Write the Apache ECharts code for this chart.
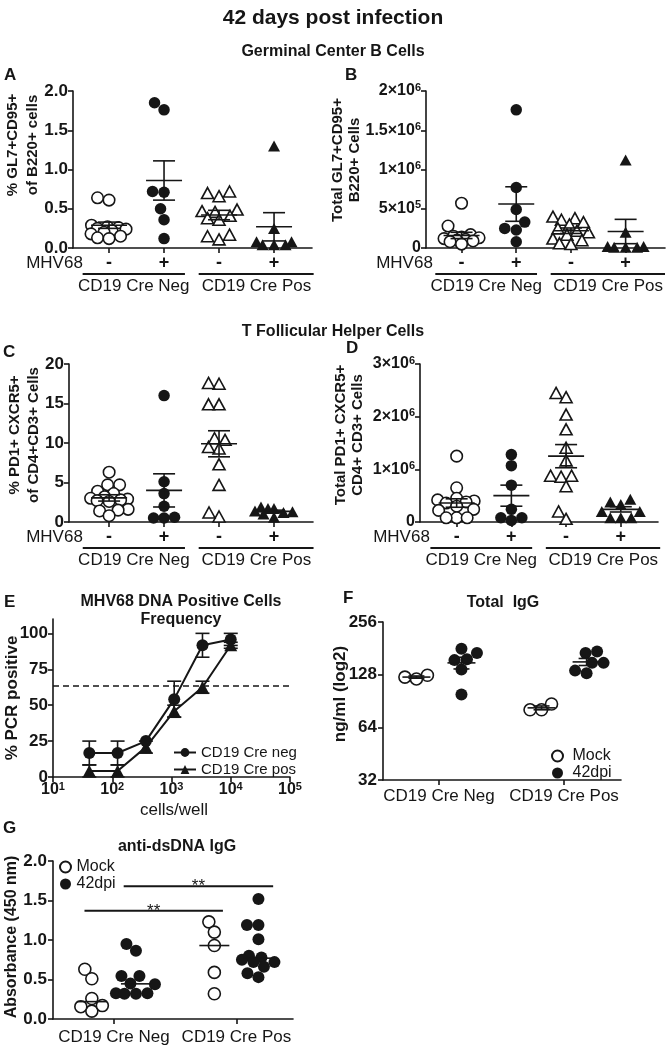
<!DOCTYPE html>
<html>
<head>
<meta charset="utf-8">
<script src="https://cdn.jsdelivr.net/npm/echarts@6/dist/echarts.min.js"></script>
<style>html,body{margin:0;padding:0;background:#fff}#c{width:666px;height:1049px}</style>
</head>
<body>
<div id="c"></div>
<script>
// ================= DATA =================
const signs = ['-', '+', '-', '+'];
const genotypes = ['CD19 Cre Neg', 'CD19 Cre Pos'];
const infectionLabel = 'MHV68';

// A: % GL7+CD95+ of B220+ cells
const aNegMock = [0.61, 0.64, 0.29, 0.27, 0.26, 0.25, 0.24, 0.22, 0.20, 0.18, 0.15, 0.13, 0.12];
const aNegInf  = [1.76, 1.85, 0.71, 0.72, 0.50, 0.36, 0.12];
const aPosMock = [0.66, 0.72, 0.70, 0.49, 0.47, 0.46, 0.41, 0.38, 0.36, 0.17, 0.15, 0.11];
const aPosInf  = [1.30, 0.25, 0.08, 0.08, 0.04, 0.04, 0.04];
const aMean = [0.29, 0.86, 0.42, 0.27];
const aSem  = [0.04, 0.25, 0.06, 0.18];

// B: Total GL7+CD95+ B220+ cells
const bNegMock = [5.7e5, 2.8e5, 1.7e5, 1.5e5, 1.4e5, 1.3e5, 1.2e5, 1.1e5, 1.0e5, 0.9e5, 0.8e5, 0.5e5];
const bNegInf  = [1.76e6, 7.7e5, 4.9e5, 3.3e5, 2.5e5, 2.3e5, 0.8e5];
const bPosMock = [4.0e5, 3.8e5, 3.6e5, 3.3e5, 3.0e5, 2.5e5, 2.2e5, 2.0e5, 1.7e5, 1.2e5, 1.0e5, 0.6e5, 0.5e5];
const bPosInf  = [1.12e6, 2.0e5, 2e4, 2e4, 1e4, 1e4, 1e4];
const bMean = [1.6e5, 5.6e5, 2.2e5, 2.1e5];
const bSem  = [0.4e5, 2.2e5, 0.35e5, 1.55e5];

// C: % PD1+ CXCR5+ of CD4+CD3+ cells
const cNegMock = [6.3, 4.7, 4.7, 3.9, 3.6, 3.2, 3.0, 2.9, 2.8, 2.7, 2.6, 1.6, 1.5, 1.4, 0.8];
const cNegInf  = [16.0, 5.1, 3.6, 2.0, 0.6, 0.5, 0.5];
const cPosMock = [17.5, 17.6, 14.9, 14.9, 10.6, 10.4, 9.3, 9.5, 7.3, 4.7, 0.7, 1.2];
const cPosInf  = [1.9, 1.7, 1.7, 1.4, 1.3, 1.2, 1.0, 0.6];
const cMean = [3.05, 4.0, 9.9, 1.35];
const cSem  = [0.4, 2.1, 1.65, 0.15];

// D: Total PD1+ CXCR5+ CD4+ CD3+ cells
const dNegMock = [1.25e6, 6.5e5, 4.5e5, 4.2e5, 4.0e5, 3.8e5, 3.6e5, 3.0e5, 2.4e5, 2.2e5, 0.8e5, 0.8e5, 0.8e5];
const dNegInf  = [1.28e6, 1.07e6, 7.0e5, 2.4e5, 0.8e5, 0.8e5, 0.3e5];
const dPosMock = [2.45e6, 2.37e6, 2.04e6, 1.76e6, 1.41e6, 1.17e6, 8.8e5, 8.8e5, 8.6e5, 6.8e5, 2.0e5, 0.6e5];
const dPosInf  = [4.3e5, 3.8e5, 3.3e5, 2.0e5, 2.0e5, 0.8e5, 0.8e5, 0.8e5];
const dMean = [3.6e5, 5.0e5, 1.25e6, 2.4e5];
const dSem  = [0.8e5, 2.0e5, 2.2e5, 0.5e5];

// E: limiting dilution, % PCR positive
const eSeriesNames = ['CD19 Cre neg', 'CD19 Cre pos'];
const eCells  = [41, 123, 370, 1111, 3333, 10000];
const eNegPct = [16.7, 16.7, 25.0, 54.2, 91.7, 95.8];
const eNegSem = [8.3, 8.3, 0, 12.5, 8.3, 4.2];
const ePosPct = [4.2, 4.2, 20.8, 45.8, 62.5, 91.7];
const ePosSem = [4.2, 4.2, 4.2, 4.2, 4.2, 2.1];
const eCutoff = 63.2;
const eYTicks = [0, 25, 50, 75, 100];

// F: Total IgG (ng/ml, log2)
const treatNames = ['Mock', '42dpi'];
const fMockNeg = [121, 127, 124];
const fMockPos = [80.6, 87, 80.6];
const fInfNeg  = [155, 170, 180, 157, 137, 98.5];
const fInfPos  = [170, 173.5, 149.5, 149.5, 130.6, 135];
const fMean = [124, 149.5, 82.7, 151.4];   // Neg-mock, Neg-42dpi, Pos-mock, Pos-42dpi
const fSem  = [1.8, 11.5, 2.1, 7.0];

// G: anti-dsDNA IgG (absorbance 450 nm)
const gMockNeg = [0.63, 0.51, 0.26, 0.10, 0.17, 0.156];
const gMockPos = [1.23, 1.10, 0.93, 0.59, 0.32];
const gInfNeg  = [0.95, 0.865, 0.544, 0.544, 0.45, 0.44, 0.325, 0.325, 0.32, 0.32];
const gInfPos  = [1.52, 1.19, 1.19, 1.01, 0.80, 0.78, 0.75, 0.72, 0.72, 0.66, 0.58, 0.53];
const gMedian  = [0.22, 0.445, 0.93, 0.77];
const gSigBars = [[0.76, 1.89, 1.37], [1.08, 2.30, 1.68]];  // [from, to, height]
const gSigLabel = '**';

// ================= LAYOUT / STYLE =================
const FONT = '"Liberation Sans", Arial, Helvetica, sans-serif';
const INK = '#161616';
const LAYOUT = {
  A: {left: 73,  top: 91,  width: 239, height: 157, xmin: 0.345, xmax: 4.69, ymin: 0, ymax: 2,   step: 0.5},
  B: {left: 426, top: 91,  width: 239, height: 157, xmin: 0.35,  xmax: 4.72, ymin: 0, ymax: 2e6, step: 5e5},
  C: {left: 69,  top: 364, width: 244, height: 158, xmin: 0.27,  xmax: 4.71, ymin: 0, ymax: 20,  step: 5},
  D: {left: 420, top: 364, width: 238, height: 158, xmin: 0.33,  xmax: 4.68, ymin: 0, ymax: 3e6, step: 1e6},
  E: {left: 53,  top: 619, width: 237, height: 158, ymin: 0, ymax: 110},
  F: {left: 383, top: 622, width: 238, height: 158, xmin: 0.553, xmax: 2.455, ymin: 32, ymax: 256, log: 2},
  G: {left: 53,  top: 861, width: 240, height: 158, xmin: 0.503, xmax: 2.462, ymin: 0, ymax: 2, step: 0.5}
};
const SUB = 0.18; // mock / infected offset around a genotype category (F, G)

const AXLINE = {show: true, onZero: false, lineStyle: {color: INK, width: 1.6}};
function tick(vals) {
  const t = {show: true, inside: false, length: 5, lineStyle: {color: INK, width: 1.6}};
  if (vals) t.customValues = vals;
  return t;
}
const supRich = {
  m: {fontSize: 16, fontWeight: 'bold', color: INK, fontFamily: FONT, lineHeight: 18},
  s: {fontSize: 11, fontWeight: 'bold', color: INK, fontFamily: FONT, verticalAlign: 'top', lineHeight: 11}
};
function sciLabel(v) {
  if (v === 0) return '{m|0}';
  const e = Math.floor(Math.log10(v) + 1e-9);
  const m = +(v / Math.pow(10, e)).toFixed(2);
  return '{m|' + m + '×10}{s|' + e + '}';
}

// fraction of axis height for value (linear or log)
function yFrac(cfg, v) {
  if (cfg.log) {
    const L = x => Math.log(x);
    return (L(v) - L(cfg.ymin)) / (L(cfg.ymax) - L(cfg.ymin));
  }
  return (v - cfg.ymin) / (cfg.ymax - cfg.ymin);
}
// Beeswarm limited to a maximum sideways spread (px); overlaps allowed when crowded
function swarm(values, center, cfg, diam, spread) {
  const pxPerX = cfg.width / (cfg.xmax - cfg.xmin);
  const order = values.map((v, i) => i).sort((a, b) => values[a] - values[b]);
  const placed = [];
  const out = new Array(values.length);
  const cands = [0];
  for (let s = 0.5; s <= spread + 1e-9; s += 0.5) { cands.push(-s); cands.push(s); }
  for (const i of order) {
    const py = yFrac(cfg, values[i]) * cfg.height;
    let best = null, bestD = -1;
    for (const cand of cands) {
      let dmin = Infinity;
      for (const p of placed) {
        const d = Math.hypot(p.px - cand, p.py - py);
        if (d < dmin) dmin = d;
      }
      if (dmin >= diam) { best = cand; break; }
      if (dmin > bestD + 0.75) { bestD = dmin; best = cand; }
    }
    placed.push({px: best, py: py});
    out[i] = [center + best / pxPerX, values[i]];
  }
  return out;
}
function scatter(idx, name, pts, symbol, filled, size) {
  return {
    type: 'scatter', name: name, xAxisIndex: idx, yAxisIndex: idx, data: pts,
    symbol: symbol, symbolSize: size, z: 5, clip: false, silent: true,
    itemStyle: {color: filled ? INK : '#ffffff', borderColor: INK, borderWidth: filled ? 0 : 1.6, opacity: 1}
  };
}
function lineEl(x1, y1, x2, y2, w) {
  return {type: 'line', shape: {x1: x1, y1: y1, x2: x2, y2: y2}, style: {stroke: INK, lineWidth: w || 1.6, fill: null}};
}
function meanSeries(idx, rows, halfW, capW) {
  return {
    type: 'custom', xAxisIndex: idx, yAxisIndex: idx, silent: true, z: 10, clip: false, data: rows,
    renderItem: function (params, api) {
      const x = api.value(0), m = api.value(1), s = api.value(2);
      const c = api.coord([x, m]);
      const kids = [lineEl(c[0] - halfW, c[1], c[0] + halfW, c[1])];
      if (s > 0 && capW > 0) {
        const t = api.coord([x, m + s]), b = api.coord([x, m - s]);
        kids.push(lineEl(c[0], t[1], c[0], b[1]));
        kids.push(lineEl(c[0] - capW, t[1], c[0] + capW, t[1]));
        kids.push(lineEl(c[0] - capW, b[1], c[0] + capW, b[1]));
      }
      return {type: 'group', children: kids};
    }
  };
}

// ================= OPTION =================
const option = {
  animation: false, backgroundColor: '#ffffff',
  textStyle: {fontFamily: FONT},
  grid: [], xAxis: [], yAxis: [], series: [],
  legend: [
    {left: 173, top: 745, orient: 'vertical', padding: 0, itemGap: 2, itemWidth: 22, itemHeight: 11,
     selectedMode: false, data: eSeriesNames,
     textStyle: {fontSize: 15, color: INK, fontFamily: FONT, lineHeight: 14}},
    {left: 551, top: 748, orient: 'vertical', padding: 0, itemGap: 1, itemWidth: 20, itemHeight: 11,
     selectedMode: false, data: treatNames,
     textStyle: {fontSize: 16, color: INK, fontFamily: FONT, lineHeight: 14}},
    {left: 59, top: 859, orient: 'vertical', padding: 0, itemGap: 1, itemWidth: 12, itemHeight: 11,
     selectedMode: false, data: treatNames,
     textStyle: {fontSize: 16, color: INK, fontFamily: FONT, lineHeight: 12}}
  ]
};
function addGrid(cfg) {
  option.grid.push({left: cfg.left, top: cfg.top, width: cfg.width, height: cfg.height,
                    containLabel: false, outerBoundsMode: 'none'});
}

const FOUR = [
  {key: 'A', groups: [aNegMock, aNegInf, aPosMock, aPosInf], mean: aMean, sem: aSem,
   fmt: v => v.toFixed(1), rich: null, diam: 11.5, spread: 18},
  {key: 'B', groups: [bNegMock, bNegInf, bPosMock, bPosInf], mean: bMean, sem: bSem,
   fmt: sciLabel, rich: supRich, diam: 11.5, spread: 18},
  {key: 'C', groups: [cNegMock, cNegInf, cPosMock, cPosInf], mean: cMean, sem: cSem,
   fmt: v => String(v), rich: null, diam: 10.5, spread: 19},
  {key: 'D', groups: [dNegMock, dNegInf, dPosMock, dPosInf], mean: dMean, sem: dSem,
   fmt: sciLabel, rich: supRich, diam: 10.5, spread: 19}
];
const SYMS = [['circle', false, 11.5], ['circle', true, 11.5], ['triangle', false, [12, 11]], ['triangle', true, [12, 11]]];
const CATS = [1, 2, 3, 4];

FOUR.forEach((P, i) => {
  const cfg = LAYOUT[P.key];
  addGrid(cfg);
  option.xAxis.push({
    gridIndex: i, type: 'value', min: cfg.xmin, max: cfg.xmax,
    axisLine: AXLINE, axisTick: tick(CATS), splitLine: {show: false},
    axisLabel: {customValues: CATS, formatter: v => signs[Math.round(v) - 1], margin: 6,
                fontSize: 18, fontWeight: 'bold', color: INK, fontFamily: FONT}
  });
  const lab = {formatter: P.fmt, margin: 5, fontSize: 17, fontWeight: 'bold', color: INK, fontFamily: FONT};
  if (P.rich) lab.rich = P.rich;
  option.yAxis.push({
    gridIndex: i, type: 'value', min: cfg.ymin, max: cfg.ymax, interval: cfg.step,
    axisLine: AXLINE, axisTick: tick(), splitLine: {show: false}, axisLabel: lab
  });
  P.groups.forEach((vals, g) => {
    const s = SYMS[g];
    option.series.push(scatter(i, P.key + g, swarm(vals, CATS[g], cfg, P.diam, P.spread), s[0], s[1], s[2]));
  });
  option.series.push(meanSeries(i, P.mean.map((m, g) => [CATS[g], m, P.sem[g]]), 18, 11));
});

// ---- E ----
(function () {
  const i = 4, cfg = LAYOUT.E;
  addGrid(cfg);
  option.xAxis.push({
    gridIndex: i, type: 'log', logBase: 10, min: 10, max: 100000,
    axisLine: AXLINE, axisTick: tick(), splitLine: {show: false}, minorTick: {show: false},
    axisLabel: {formatter: v => '{m|10}{s|' + Math.round(Math.log10(v)) + '}', margin: 4, rich: supRich}
  });
  option.yAxis.push({
    gridIndex: i, type: 'value', min: cfg.ymin, max: cfg.ymax,
    axisLine: AXLINE, axisTick: tick(eYTicks), splitLine: {show: false},
    axisLabel: {customValues: eYTicks, margin: 5, fontSize: 17, fontWeight: 'bold', color: INK, fontFamily: FONT}
  });
  const defs = [[eNegPct, eNegSem, 'circle'], [ePosPct, ePosSem, 'triangle']];
  defs.forEach((d, k) => {
    const s = {
      type: 'line', name: eSeriesNames[k], xAxisIndex: i, yAxisIndex: i,
      data: eCells.map((x, j) => [x, d[0][j]]), symbol: d[2], symbolSize: d[2] === 'circle' ? 12 : [13, 12],
      lineStyle: {color: INK, width: 2}, itemStyle: {color: INK}, z: 6, silent: true, clip: false
    };
    if (k === 0) {
      s.markLine = {silent: true, symbol: ['none', 'none'], label: {show: false},
                    lineStyle: {color: INK, type: [6, 4], width: 1.5}, data: [{yAxis: eCutoff}]};
    }
    option.series.push(s);
    option.series.push(meanSeries(i, eCells.map((x, j) => [x, d[0][j], d[1][j]]), 0, 7));
  });
})();

// ---- F ----
(function () {
  const i = 5, cfg = LAYOUT.F;
  addGrid(cfg);
  option.xAxis.push({
    gridIndex: i, type: 'value', min: cfg.xmin, max: cfg.xmax,
    axisLine: AXLINE, axisTick: tick([1, 2]), splitLine: {show: false},
    axisLabel: {customValues: [1, 2], formatter: v => genotypes[Math.round(v) - 1], margin: 8,
                fontSize: 17, color: INK, fontFamily: FONT}
  });
  option.yAxis.push({
    gridIndex: i, type: 'log', logBase: 2, min: cfg.ymin, max: cfg.ymax,
    axisLine: AXLINE, axisTick: tick(), splitLine: {show: false}, minorTick: {show: false},
    axisLabel: {formatter: v => String(Math.round(v)), margin: 6, fontSize: 17, fontWeight: 'bold', color: INK, fontFamily: FONT}
  });
  const mock = swarm(fMockNeg, 1 - SUB, cfg, 11.5, 17).concat(swarm(fMockPos, 2 - SUB, cfg, 11.5, 17));
  const inf = swarm(fInfNeg, 1 + SUB, cfg, 11.5, 17).concat(swarm(fInfPos, 2 + SUB, cfg, 11.5, 17));
  option.series.push(scatter(i, treatNames[0], mock, 'circle', false, 12));
  option.series.push(scatter(i, treatNames[1], inf, 'circle', true, 12));
  const xs = [1 - SUB, 1 + SUB, 2 - SUB, 2 + SUB];
  option.series.push(meanSeries(i, fMean.map((m, g) => [xs[g], m, fSem[g]]), 14, 8));
})();

// ---- G ----
(function () {
  const i = 6, cfg = LAYOUT.G;
  addGrid(cfg);
  option.xAxis.push({
    gridIndex: i, type: 'value', min: cfg.xmin, max: cfg.xmax,
    axisLine: AXLINE, axisTick: tick([1, 2]), splitLine: {show: false},
    axisLabel: {customValues: [1, 2], formatter: v => genotypes[Math.round(v) - 1], margin: 10,
                fontSize: 17, color: INK, fontFamily: FONT}
  });
  option.yAxis.push({
    gridIndex: i, type: 'value', min: cfg.ymin, max: cfg.ymax, interval: cfg.step,
    axisLine: AXLINE, axisTick: tick(), splitLine: {show: false},
    axisLabel: {formatter: v => v.toFixed(1), margin: 6, fontSize: 17, fontWeight: 'bold', color: INK, fontFamily: FONT}
  });
  const mock = swarm(gMockNeg, 1 - SUB, cfg, 11.5, 18).concat(swarm(gMockPos, 2 - SUB, cfg, 11.5, 18));
  const inf = swarm(gInfNeg, 1 + SUB, cfg, 11.5, 20).concat(swarm(gInfPos, 2 + SUB, cfg, 11.5, 20));
  option.series.push(scatter(i, treatNames[0], mock, 'circle', false, 12));
  option.series.push(scatter(i, treatNames[1], inf, 'circle', true, 12));
  const xs = [1 - SUB, 1 + SUB, 2 - SUB, 2 + SUB];
  option.series.push(meanSeries(i, gMedian.map((m, g) => [xs[g], m, 0]), 15, 0));
  option.series.push({
    type: 'custom', xAxisIndex: i, yAxisIndex: i, silent: true, z: 10, clip: false, data: gSigBars,
    renderItem: function (params, api) {
      const a = api.coord([api.value(0), api.value(2)]);
      const b = api.coord([api.value(1), api.value(2)]);
      return {type: 'group', children: [
        lineEl(a[0], a[1], b[0], b[1], 2),
        {type: 'text', x: (a[0] + b[0]) / 2, y: a[1] + 9,
         style: {text: gSigLabel, fontSize: 17, fontFamily: FONT, fill: INK,
                 align: 'center', textAlign: 'center', verticalAlign: 'bottom', textVerticalAlign: 'bottom'}}
      ]};
    }
  });
})();

const chart = echarts.init(document.getElementById('c'), null, {renderer: 'canvas', width: 666, height: 1049});
chart.setOption(option);

// ================= TEXT ANNOTATIONS =================
function txt(text, x, y, size, bold, opts) {
  opts = opts || {};
  return {
    type: 'text', x: x, y: y, rotation: opts.rot || 0, silent: true, z: 20,
    style: {text: text, fontSize: size, fontWeight: bold ? 'bold' : 'normal', fontFamily: FONT, fill: INK,
            align: opts.align || 'center', textAlign: opts.align || 'center',
            verticalAlign: 'middle', textVerticalAlign: 'middle', lineHeight: opts.lh || size + 2}
  };
}
const R = Math.PI / 2;
const g = [
  txt('42 days post infection', 333, 18, 21, true),
  txt('Germinal Center B Cells', 333, 52, 16, true),
  txt('T Follicular Helper Cells', 333, 332, 16, true),
  txt('MHV68 DNA Positive Cells\nFrequency', 181, 611, 16, true, {lh: 18}),
  txt('Total  IgG', 503, 603, 16, true),
  txt('anti-dsDNA IgG', 177, 847, 16, true),
  txt('A', 4, 75, 17, true, {align: 'left'}),
  txt('B', 345, 75, 17, true, {align: 'left'}),
  txt('C', 3, 352, 17, true, {align: 'left'}),
  txt('D', 346, 348, 17, true, {align: 'left'}),
  txt('E', 4, 602, 17, true, {align: 'left'}),
  txt('F', 343, 598, 17, true, {align: 'left'}),
  txt('G', 3, 828, 17, true, {align: 'left'}),
  txt('% GL7+CD95+\nof B220+ cells', 23, 145, 15, true, {rot: R, lh: 20}),
  txt('Total GL7+CD95+\nB220+ Cells', 346, 160, 15, true, {rot: R, lh: 17}),
  txt('% PD1+ CXCR5+\nof CD4+CD3+ Cells', 24, 435, 15, true, {rot: R, lh: 19}),
  txt('Total PD1+ CXCR5+\nCD4+ CD3+ Cells', 349, 435, 15, true, {rot: R, lh: 17}),
  txt('% PCR positive', 12, 698, 17, true, {rot: R}),
  txt('ng/ml (log2)', 340, 694, 17, true, {rot: R}),
  txt('Absorbance (450 nm)', 12, 937, 16, true, {rot: R}),
  txt('cells/well', 174, 810, 17, false)
];
const mhvX = {A: 54.5, B: 404.5, C: 54.5, D: 401.5};
FOUR.forEach((P, i) => {
  const px = x => chart.convertToPixel({gridIndex: i}, [x, 0]);
  const y0 = px(1)[1];
  g.push(txt(infectionLabel, mhvX[P.key], y0 + 15, 17, false));
  [[0.52, 2.38, 1.45], [2.63, 4.72, 3.68]].forEach((u, k) => {
    const a = px(u[0])[0], b = px(u[1])[0], c = px(u[2])[0];
    g.push(Object.assign(lineEl(a, y0 + 26, b, y0 + 26, 2), {silent: true, z: 20}));
    g.push(txt(genotypes[k], c, y0 + 38, 17, false));
  });
});
chart.setOption({graphic: {elements: g}});
</script>
</body>
</html>
